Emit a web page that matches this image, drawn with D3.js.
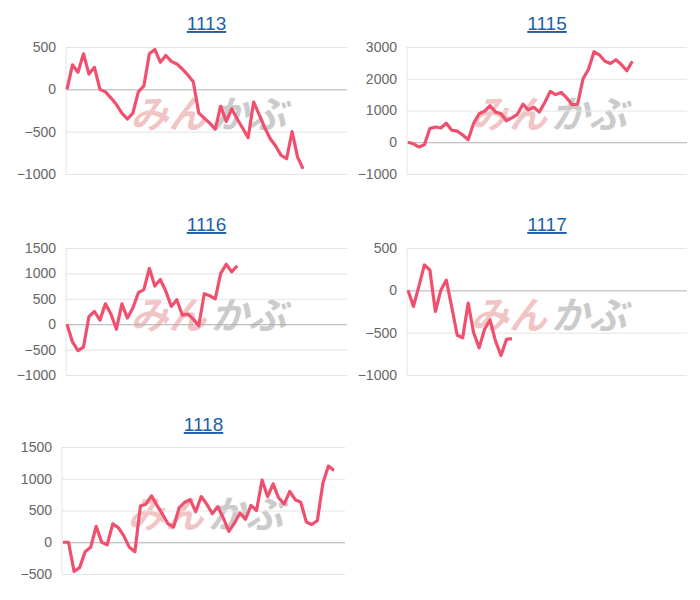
<!DOCTYPE html>
<html><head><meta charset="utf-8">
<script src="https://cdn.jsdelivr.net/npm/d3@7"></script>
<style>body{margin:0;background:#fff;font-family:"Liberation Sans",Arial,sans-serif}</style>
</head><body><svg id="c" width="700" height="600"></svg>
<script>
const titles = ["1113","1115","1116","1117","1118"];
const s1113 = [0,290,200,420,180,260,0,-30,-100,-180,-280,-350,-280,-30,40,420,470,320,400,330,300,240,170,90,-280,-340,-400,-470,-200,-380,-230,-350,-460,-570,-150,-300,-450,-580,-670,-780,-820,-500,-800,-940];
const s1115 = [0,-50,-150,-80,430,480,450,600,380,350,230,80,600,900,980,1150,950,900,680,770,880,1200,1020,1100,950,1250,1600,1500,1570,1400,1180,1200,2000,2300,2850,2750,2550,2480,2600,2450,2250,2550];
const s1116 = [0,-350,-520,-450,150,250,80,400,200,-100,400,120,320,620,680,1100,750,880,650,350,480,180,200,100,-30,600,560,500,1000,1180,1030,1150];
const s1117 = [0,-190,50,300,240,-250,0,120,-200,-530,-560,-150,-500,-680,-460,-350,-600,-770,-580,-570];
const s1118 = [0,0,-460,-400,-150,-80,250,0,-40,290,230,100,-80,-150,570,600,730,580,440,290,240,540,630,670,480,720,600,450,560,380,170,300,460,360,580,500,980,720,920,700,600,800,670,630,320,280,340,930,1200,1130];
const series = [s1113,s1115,s1116,s1117,s1118];
const yTicks = [[500,0,-500,-1000],[3000,2000,1000,0,-1000],[1500,1000,500,0,-500,-1000],[500,0,-500,-1000],[1500,1000,500,0,-500]];
const xSlots = 51;

const svg = d3.select("#c");
const layout = [
  {x0:66,x1:347,y0:47,y1:174,ty:30},
  {x0:407,x1:687,y0:47,y1:174,ty:30},
  {x0:66,x1:347,y0:248,y1:375,ty:231},
  {x0:407,x1:687,y0:248,y1:375,ty:231},
  {x0:62,x1:345,y0:447,y1:574,ty:431}
];
series.forEach((data,i)=>{
  const L = layout[i], t = yTicks[i];
  const g = svg.append("g");
  const x = d3.scaleLinear().domain([0,xSlots]).range([L.x0+1,L.x1]);
  const y = d3.scaleLinear().domain([d3.min(t),d3.max(t)]).range([L.y1,L.y0]);
  const cx=(L.x0+L.x1)/2+2, cy=(L.y0+L.y1)/2+17;
  g.append("text").attr("x",cx-2).attr("y",cy).attr("text-anchor","end")
    .attr("font-size",38).attr("font-weight","bold").attr("font-style","italic")
    .attr("font-family","Noto Sans CJK JP").attr("fill","#e8a0a0").attr("opacity",0.6).text("みん");
  g.append("text").attr("x",cx+2).attr("y",cy).attr("text-anchor","start")
    .attr("font-size",38).attr("font-weight","bold").attr("font-style","italic")
    .attr("font-family","Noto Sans CJK JP").attr("fill","#aaa").attr("opacity",0.6).text("かぶ");
  const ax = g.append("g").attr("transform",`translate(${L.x0},0)`)
    .call(d3.axisLeft(y).tickValues(t).tickSize(-(L.x1-L.x0)).tickFormat(d3.format("d")));
  ax.select(".domain").remove();
  ax.selectAll(".tick line").attr("stroke",d=>d===0?"#b0b0b0":"#e4e4e4");
  ax.selectAll(".tick text").attr("x",-10).attr("fill","#666").attr("font-size",14)
    .attr("font-family","'Liberation Sans',Arial,sans-serif");
  g.append("line").attr("x1",L.x0).attr("x2",L.x0).attr("y1",L.y0).attr("y2",L.y1).attr("stroke","#e4e4e4");
  g.append("path").datum(data).attr("fill","none").attr("stroke","#f0506e").attr("stroke-width",3.2)
    .attr("stroke-linejoin","round")
    .attr("d",d3.line().x((d,j)=>x(j)).y(d=>y(d)));
  g.append("text").attr("x",(L.x0+L.x1)/2).attr("y",L.ty).attr("text-anchor","middle")
    .attr("font-size",19).attr("fill","#1a5fa8").attr("text-decoration","underline").text(titles[i]);
});
</script></body></html>
